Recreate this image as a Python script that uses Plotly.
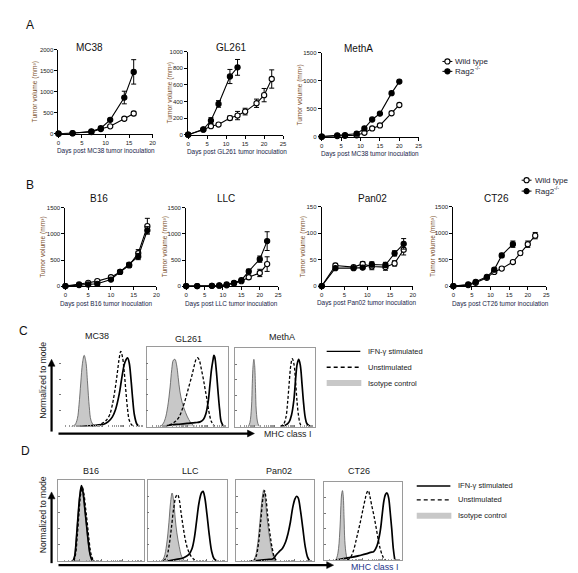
import plotly.graph_objects as go

W, H = 578, 573
FONT = "Liberation Sans, Arial, Helvetica, sans-serif"

# ---------------- Panel A data ----------------
mc38_days = [0, 3, 7, 9, 11, 14, 16]
mc38_wt = [0, 10, 40, 110, 175, 355, 480]
mc38_wt_err = [0, 0, 0, 0, 20, 30, 50]
mc38_rag = [0, 12, 55, 130, 330, 860, 1470]
mc38_rag_err = [0, 0, 0, 0, 20, 150, 290]

gl261_days_wt = [0, 4, 6, 8, 11, 13, 15, 18, 20, 22]
gl261_wt = [0, 60, 102, 122, 200, 230, 278, 378, 476, 670]
gl261_wt_err = [0, 0, 10, 10, 25, 50, 40, 50, 80, 110]
gl261_days_rag = [0, 4, 6, 8, 11, 13]
gl261_rag = [0, 65, 170, 370, 700, 810]
gl261_rag_err = [0, 10, 35, 40, 85, 95]

metha_days = [0, 4, 6, 9, 11, 13, 15, 18, 20]
metha_wt = [0, 10, 15, 25, 70, 147, 200, 418, 565]
metha_rag = [0, 24, 29, 53, 147, 306, 412, 776, 982]

# ---------------- Panel B data ----------------
b16_days = [0, 3, 5, 7, 10, 12, 14, 16, 18]
b16_wt = [0, 31, 63, 95, 170, 271, 397, 630, 1150]
b16_wt_err = [0, 10, 10, 15, 20, 25, 40, 70, 150]
b16_rag = [0, 19, 31, 44, 126, 271, 410, 567, 1071]
b16_rag_err = [0, 5, 8, 10, 15, 25, 40, 60, 70]

llc_days = [0, 3, 7, 9, 11, 13, 15, 17, 20, 22]
llc_wt = [0, 0, 5, 8, 15, 50, 95, 170, 252, 422]
llc_wt_err = [0, 0, 0, 0, 5, 10, 15, 40, 70, 140]
llc_rag = [0, 0, 5, 12, 31, 63, 113, 284, 517, 863]
llc_rag_err = [0, 0, 0, 0, 5, 10, 15, 40, 60, 180]

pan02_days = [0, 3, 7, 9, 11, 14, 16, 18]
pan02_wt = [0, 39, 36, 42, 37, 36, 43, 69]
pan02_wt_err = [0, 4, 2, 4, 6, 6, 5, 10]
pan02_rag = [0, 34, 34, 35, 41, 40, 62, 80]
pan02_rag_err = [0, 2, 2, 2, 5, 5, 5, 10]

ct26_days_wt = [0, 4, 6, 9, 11, 13, 16, 18, 20, 22]
ct26_wt = [0, 19, 63, 156, 269, 331, 456, 625, 794, 956]
ct26_wt_err = [0, 5, 10, 15, 20, 20, 25, 30, 60, 60]
ct26_days_rag = [0, 4, 6, 9, 11, 13, 16]
ct26_rag = [0, 31, 81, 175, 312, 581, 794]
ct26_rag_err = [0, 5, 10, 15, 30, 40, 60]

# ---------------- Panel C/D histogram data (x: % of axis, y: % of mode) ----------------
c_mc38_iso_x = [14, 18, 21, 23, 25, 27, 29, 31, 33, 35, 37, 40, 44]
c_mc38_iso_y = [0, 2, 10, 28, 55, 80, 90, 82, 55, 25, 8, 2, 0]
c_mc38_uns_x = [38, 45, 50, 55, 59, 62, 65, 68, 70, 72, 74, 76, 78, 80, 82, 85, 88]
c_mc38_uns_y = [0, 2, 4, 8, 15, 27, 45, 68, 85, 95, 88, 70, 45, 22, 8, 2, 0]
c_mc38_ifn_x = [25, 35, 45, 52, 57, 62, 66, 70, 73, 76, 78, 80, 82, 84, 86, 88, 91, 94]
c_mc38_ifn_y = [0, 1, 2, 3, 6, 12, 22, 40, 60, 78, 84, 87, 80, 60, 35, 15, 3, 0]

c_gl261_iso_x = [16, 20, 23, 26, 29, 31, 33, 35, 37, 39, 41, 44, 48, 52, 56, 60]
c_gl261_iso_y = [0, 3, 10, 25, 50, 72, 84, 85, 78, 62, 45, 30, 18, 9, 3, 0]
c_gl261_uns_x = [22, 30, 36, 40, 44, 48, 52, 56, 59, 61, 63, 65, 67, 70, 72, 74, 77, 80, 84]
c_gl261_uns_y = [0, 3, 7, 12, 22, 35, 50, 65, 78, 85, 87, 84, 75, 60, 48, 37, 18, 6, 0]
c_gl261_ifn_x = [20, 30, 40, 50, 60, 66, 70, 73, 76, 78, 80, 82, 83, 84, 86, 88, 90, 92, 95]
c_gl261_ifn_y = [0, 2, 3, 4, 5, 6, 9, 16, 32, 52, 72, 85, 90, 88, 70, 45, 22, 6, 0]

c_metha_iso_x = [17, 19, 21, 22, 23, 24, 25, 26, 27, 29, 31]
c_metha_iso_y = [0, 5, 25, 55, 78, 86, 78, 50, 20, 4, 0]
c_metha_uns_x = [57, 61, 64, 66, 68, 70, 72, 74, 76, 78, 80, 82, 85]
c_metha_uns_y = [0, 3, 12, 30, 55, 78, 87, 80, 58, 30, 12, 3, 0]
c_metha_ifn_x = [58, 64, 68, 71, 74, 76, 78, 80, 82, 84, 86, 88, 90, 93, 96]
c_metha_ifn_y = [0, 2, 6, 15, 35, 60, 80, 86, 78, 55, 30, 12, 4, 1, 0]

d_b16_iso_x = [17, 19, 21, 23, 25, 27, 29, 31, 33, 35, 37, 40]
d_b16_iso_y = [0, 8, 30, 58, 82, 92, 80, 62, 42, 22, 8, 0]
d_b16_uns_x = [18, 20, 22, 24, 26, 28, 30, 32, 34, 36, 38, 41]
d_b16_uns_y = [0, 8, 30, 58, 82, 91, 82, 64, 45, 25, 10, 0]
d_b16_ifn_x = [17, 19, 21, 23, 25, 27, 29, 31, 33, 35, 37, 39, 41]
d_b16_ifn_y = [0, 6, 28, 56, 80, 93, 84, 64, 44, 24, 9, 2, 0]

d_llc_iso_x = [18, 21, 24, 27, 29, 31, 33, 35, 37, 40, 43, 47]
d_llc_iso_y = [0, 5, 20, 48, 72, 84, 74, 52, 35, 18, 6, 0]
d_llc_uns_x = [20, 24, 27, 30, 33, 36, 38, 40, 42, 45, 48, 51, 55, 59, 63]
d_llc_uns_y = [0, 5, 18, 40, 65, 80, 82, 76, 62, 42, 25, 14, 6, 2, 0]
d_llc_ifn_x = [25, 35, 45, 52, 56, 59, 62, 65, 68, 70, 72, 75, 78, 81, 84, 88]
d_llc_ifn_y = [0, 2, 4, 8, 15, 28, 50, 72, 84, 86, 80, 58, 32, 12, 3, 0]

d_pan02_iso_x = [22, 25, 28, 31, 34, 36, 38, 40, 43, 46, 49, 52]
d_pan02_iso_y = [0, 5, 20, 48, 78, 88, 76, 55, 32, 14, 4, 0]
d_pan02_uns_x = [23, 26, 29, 32, 35, 37, 39, 41, 44, 47, 50, 53]
d_pan02_uns_y = [0, 5, 20, 48, 78, 87, 76, 56, 33, 15, 4, 0]
d_pan02_ifn_x = [18, 30, 40, 48, 52, 56, 60, 64, 67, 70, 73, 76, 78, 80, 83, 86, 89, 92, 95]
d_pan02_ifn_y = [0, 1, 2, 3, 8, 12, 16, 24, 34, 48, 66, 77, 80, 78, 62, 40, 18, 5, 0]

d_ct26_iso_x = [15, 17, 19, 21, 22, 23, 24, 25, 26, 27, 29, 31]
d_ct26_iso_y = [0, 4, 15, 45, 70, 85, 89, 82, 55, 25, 6, 0]
d_ct26_uns_x = [30, 34, 38, 42, 46, 50, 53, 55, 57, 59, 61, 64, 67, 70, 73, 76, 79]
d_ct26_uns_y = [0, 3, 12, 28, 45, 64, 78, 86, 89, 82, 72, 58, 42, 25, 12, 4, 0]
d_ct26_ifn_x = [15, 25, 37, 46, 54, 60, 64, 68, 71, 73, 75, 77, 79, 81, 83, 85, 87, 89, 91]
d_ct26_ifn_y = [0, 2, 4, 6, 8, 10, 11, 18, 30, 42, 60, 76, 84, 86, 80, 62, 40, 15, 0]

# ---------------- helpers ----------------
def px(x):
    return x / W

def py(y):
    return 1 - y / H

def xd(a, b):
    return [a / W, b / W]

def yd(top, bottom):
    return [1 - bottom / H, 1 - top / H]

fig = go.Figure()
layout = dict(width=W, height=H, margin=dict(l=0, r=0, t=0, b=0),
              paper_bgcolor="white", plot_bgcolor="rgba(0,0,0,0)",
              showlegend=False, font=dict(family=FONT, color="#222"))
annotations = []
shapes = []
counter = [0]

def new_axes(xdom, ydom, xcfg, ycfg):
    counter[0] += 1
    n = counter[0]
    s = "" if n == 1 else str(n)
    layout["xaxis" + s] = dict(domain=xdom, anchor="y" + s, **xcfg)
    layout["yaxis" + s] = dict(domain=ydom, anchor="x" + s, **ycfg)
    return "x" + s, "y" + s

def text(x, y, t, size, color="#222", angle=0, xanchor="center"):
    annotations.append(dict(x=px(x), y=py(y), xref="paper", yref="paper", text=t,
                            showarrow=False, textangle=angle, xanchor=xanchor,
                            yanchor="middle", font=dict(size=size, color=color, family=FONT)))

def line_axis(rng, vals):
    return dict(range=rng, tickvals=vals, showline=True, linecolor="black", linewidth=1,
                ticks="outside", ticklen=3, tickwidth=1, tickcolor="black",
                tickfont=dict(size=6, color="#1a1a1a", family=FONT),
                showgrid=False, zeroline=False, fixedrange=True)

def add_series(xa, ya, xs, ys, err, filled):
    fig.add_trace(go.Scatter(
        x=xs, y=ys, xaxis=xa, yaxis=ya, mode="lines+markers",
        line=dict(color="black", width=1.1),
        marker=dict(symbol="circle", size=5.2, color="black" if filled else "white",
                    line=dict(color="black", width=1.1)),
        error_y=dict(type="data", array=err if err is not None else [0] * len(ys),
                     visible=err is not None, color="black", thickness=1, width=2.5),
        cliponaxis=False, hoverinfo="skip"))

YT = "#7b4f2c"
XT = "#202448"

charts = [
    dict(x=(49, 144), y=(39, 124), xr=20, xt=[0, 5, 10, 15, 20], yr=2000, yt=[0, 500, 1000, 1500, 2000],
         title="MC38", tp=(80, 37), xl="Days post MC38 tumor inoculation", xlp=(97, 141), ylx=25,
         wt=(mc38_days, mc38_wt, mc38_wt_err), rag=(mc38_days, mc38_rag, mc38_rag_err)),
    dict(x=(180, 276), y=(41, 125), xr=25, xt=[0, 5, 10, 15, 20, 25], yr=1000, yt=[0, 200, 400, 600, 800, 1000],
         title="GL261", tp=(223, 37), xl="Days post GL261 tumor inoculation", xlp=(229, 142), ylx=162,
         wt=(gl261_days_wt, gl261_wt, gl261_wt_err), rag=(gl261_days_rag, gl261_rag, gl261_rag_err)),
    dict(x=(315, 413), y=(42, 127), xr=25, xt=[0, 5, 10, 15, 20, 25], yr=1500, yt=[0, 500, 1000, 1500],
         title="MethA", tp=(352, 38), xl="Days post MC38 tumor inoculation", xlp=(364, 145), ylx=293,
         wt=(metha_days, metha_wt, None), rag=(metha_days, metha_rag, None)),
    dict(x=(56, 148), y=(199, 278), xr=20, xt=[0, 5, 10, 15, 20], yr=1500, yt=[0, 500, 1000, 1500],
         title="B16", tp=(90, 189), xl="Days post B16 tumor inoculation", xlp=(97, 296), ylx=33,
         wt=(b16_days, b16_wt, b16_wt_err), rag=(b16_days, b16_rag, b16_rag_err)),
    dict(x=(178, 271), y=(199, 278), xr=25, xt=[0, 5, 10, 15, 20, 25], yr=1500, yt=[0, 500, 1000, 1500],
         title="LLC", tp=(218, 189), xl="Days post LLC tumor inoculation", xlp=(224, 296), ylx=157,
         wt=(llc_days, llc_wt, llc_wt_err), rag=(llc_days, llc_rag, llc_rag_err)),
    dict(x=(315, 407), y=(198, 278), xr=20, xt=[0, 5, 10, 15, 20], yr=150, yt=[0, 50, 100, 150],
         title="Pan02", tp=(366, 189), xl="Days post Pan02 tumor inoculation", xlp=(361, 295), ylx=296,
         wt=(pan02_days, pan02_wt, pan02_wt_err), rag=(pan02_days, pan02_rag, pan02_rag_err)),
    dict(x=(448, 542), y=(198, 278), xr=25, xt=[0, 5, 10, 15, 20, 25], yr=1500, yt=[0, 500, 1000, 1500],
         title="CT26", tp=(492, 189), xl="Days post CT26 tumor inoculation", xlp=(496, 296), ylx=427,
         wt=(ct26_days_wt, ct26_wt, ct26_wt_err), rag=(ct26_days_rag, ct26_rag, ct26_rag_err)),
]

for c in charts:
    xa, ya = new_axes(xd(*c["x"]), yd(*c["y"]), line_axis([0, c["xr"]], c["xt"]),
                      line_axis([0, c["yr"]], c["yt"]))
    add_series(xa, ya, *c["wt"], filled=False)
    add_series(xa, ya, *c["rag"], filled=True)
    text(c["tp"][0], c["tp"][1], c["title"], 10, "#111")
    text(c["xlp"][0], c["xlp"][1], c["xl"], 6.4, XT)
    text(c["ylx"], (c["y"][0] + c["y"][1]) / 2, "Tumor volume (mm\u00b3)", 6.6, YT, angle=-90)

# ---------------- histograms ----------------
minor_frac = [0.301, 0.477, 0.602, 0.699, 0.778, 0.845, 0.903, 0.954]
major_x = [0, 25, 50, 75, 100]

def hist_axes(xr, yr, frame):
    xcfg = dict(range=[0, 100], showline=frame, mirror=frame, linecolor="#9a9a9a", linewidth=0.8,
                ticks="inside", ticklen=2, tickwidth=0.8, tickcolor="#777", tickvals=major_x,
                showticklabels=False, showgrid=False, zeroline=False, fixedrange=True,
                minor=dict(tickvals=[d + 25 * f for d in [0, 25, 50, 75] for f in minor_frac],
                           ticks="inside", ticklen=1.5, tickcolor="#999", tickwidth=0.6))
    ycfg = dict(range=[0, 100], showline=frame, mirror=frame, linecolor="#9a9a9a", linewidth=0.8,
                ticks="inside", ticklen=2, tickwidth=0.8, tickcolor="#777",
                tickvals=[0, 20, 40, 60, 80, 100], showticklabels=False, showgrid=False,
                zeroline=False, fixedrange=True)
    return new_axes(xd(*xr), yd(*yr), xcfg, ycfg)

def add_hist(xa, ya, iso, uns, ifn):
    fig.add_trace(go.Scatter(x=iso[0], y=iso[1], xaxis=xa, yaxis=ya, mode="lines", fill="tozeroy",
                             fillcolor="#c8c8c8", line=dict(color="#555", width=0.8, shape="spline"),
                             hoverinfo="skip"))
    fig.add_trace(go.Scatter(x=uns[0], y=uns[1], xaxis=xa, yaxis=ya, mode="lines",
                             line=dict(color="black", width=1.3, dash="3px,2px", shape="spline"),
                             hoverinfo="skip"))
    fig.add_trace(go.Scatter(x=ifn[0], y=ifn[1], xaxis=xa, yaxis=ya, mode="lines",
                             line=dict(color="black", width=1.7, shape="spline"), hoverinfo="skip"))

hists = [
    dict(x=(50, 136), y=(340, 420), frame=False, title="MC38", tp=(88, 328),
         iso=(c_mc38_iso_x, c_mc38_iso_y), uns=(c_mc38_uns_x, c_mc38_uns_y), ifn=(c_mc38_ifn_x, c_mc38_ifn_y)),
    dict(x=(138, 220), y=(340, 420), frame=True, title="GL261", tp=(180, 331),
         iso=(c_gl261_iso_x, c_gl261_iso_y), uns=(c_gl261_uns_x, c_gl261_uns_y), ifn=(c_gl261_ifn_x, c_gl261_ifn_y)),
    dict(x=(227, 308), y=(341, 420), frame=True, title="MethA", tp=(275, 329),
         iso=(c_metha_iso_x, c_metha_iso_y), uns=(c_metha_uns_x, c_metha_uns_y), ifn=(c_metha_ifn_x, c_metha_ifn_y)),
    dict(x=(49, 135), y=(474, 556), frame=True, title="B16", tp=(82, 465),
         iso=(d_b16_iso_x, d_b16_iso_y), uns=(d_b16_uns_x, d_b16_uns_y), ifn=(d_b16_ifn_x, d_b16_ifn_y)),
    dict(x=(139, 219), y=(474, 556), frame=True, title="LLC", tp=(182, 465),
         iso=(d_llc_iso_x, d_llc_iso_y), uns=(d_llc_uns_x, d_llc_uns_y), ifn=(d_llc_ifn_x, d_llc_ifn_y)),
    dict(x=(228, 307), y=(474, 556), frame=True, title="Pan02", tp=(272, 465),
         iso=(d_pan02_iso_x, d_pan02_iso_y), uns=(d_pan02_uns_x, d_pan02_uns_y), ifn=(d_pan02_ifn_x, d_pan02_ifn_y)),
    dict(x=(317, 396), y=(476, 555), frame=True, title="CT26", tp=(353, 465),
         iso=(d_ct26_iso_x, d_ct26_iso_y), uns=(d_ct26_uns_x, d_ct26_uns_y), ifn=(d_ct26_ifn_x, d_ct26_ifn_y)),
]

for h in hists:
    xa, ya = hist_axes(h["x"], h["y"], h["frame"])
    add_hist(xa, ya, h["iso"], h["uns"], h["ifn"])
    text(h["tp"][0], h["tp"][1], h["title"], 9, "#1a1a1a")

# axis arrows (shapes) and labels for C and D
def arrow(hx, hy, tx, ty, w=2.2, head=7, half=3.5):
    if hx == tx:  # vertical, pointing up
        shapes.append(dict(type="line", xref="paper", yref="paper", x0=px(tx), x1=px(hx),
                           y0=py(ty), y1=py(hy + head - 1), line=dict(color="black", width=w)))
        path = "M {},{} L {},{} L {},{} Z".format(px(hx), py(hy), px(hx - half), py(hy + head),
                                                px(hx + half), py(hy + head))
    else:  # horizontal, pointing right
        shapes.append(dict(type="line", xref="paper", yref="paper", x0=px(tx), x1=px(hx - head + 1),
                           y0=py(ty), y1=py(hy), line=dict(color="black", width=w)))
        path = "M {},{} L {},{} L {},{} Z".format(px(hx), py(hy), px(hx - head), py(hy - half),
                                                px(hx - head), py(hy + half))
    shapes.append(dict(type="path", xref="paper", yref="paper", path=path,
                       fillcolor="black", line=dict(color="black", width=0.5)))

arrow(42, 352, 42, 425)
arrow(247, 427, 49, 427)
arrow(42, 486, 42, 558)
arrow(327, 560, 49, 560)
text(33, 373, "Normalized to mode", 8.6, "#222", angle=-90)
text(33, 509, "Normalized to mode", 8.6, "#222", angle=-90)
text(280, 427, "MHC class I", 8.8, "#222")
text(368, 562, "MHC class I", 8.8, "#24348a")

# panel letters
text(20, 14, "A", 12, "#111")
text(20, 176, "B", 12, "#111")
text(14, 323, "C", 12, "#111")
text(16, 445, "D", 12, "#111")

# legends for A and B
def marker_legend(x, y, filled, label, sup=None):
    shapes.append(dict(type="line", xref="paper", yref="paper", x0=px(x - 5), x1=px(x + 5),
                       y0=py(y), y1=py(y), line=dict(color="black", width=1)))
    r = 2.6
    shapes.append(dict(type="circle", xref="paper", yref="paper", x0=px(x - r), x1=px(x + r),
                       y0=py(y + r), y1=py(y - r), fillcolor="black" if filled else "white",
                       line=dict(color="black", width=1.1)))
    text(x + 6, y, label, 8, "#1a1a30", xanchor="left")
    if sup:
        text(x + 6 + 19.5, y - 3, sup, 5.5, "#1a1a30", xanchor="left")

marker_legend(442, 51, False, "Wild type")
marker_legend(442, 61, True, "Rag2", "-/-")
marker_legend(522, 171, False, "Wild type")
marker_legend(522, 182, True, "Rag2", "-/-")

# legends for C and D
def hist_legend(x0, x1, ys, tx):
    shapes.append(dict(type="line", xref="paper", yref="paper", x0=px(x0), x1=px(x1),
                       y0=py(ys[0]), y1=py(ys[0]), line=dict(color="black", width=1.4)))
    shapes.append(dict(type="line", xref="paper", yref="paper", x0=px(x0), x1=px(x1),
                       y0=py(ys[1]), y1=py(ys[1]), line=dict(color="black", width=1.3, dash="4px,3px")))
    shapes.append(dict(type="rect", xref="paper", yref="paper", x0=px(x0), x1=px(x1 + 1),
                       y0=py(ys[2] + 3), y1=py(ys[2] - 3), fillcolor="#c8c8c8", line=dict(width=0)))
    text(tx, ys[0], "IFN-γ stimulated", 7.5, "#1a1a1a", xanchor="left")
    text(tx, ys[1], "Unstimulated", 7.5, "#1a1a1a", xanchor="left")
    text(tx, ys[2], "Isotype control", 7.5, "#1a1a1a", xanchor="left")

hist_legend(320, 354, [344, 360, 376], 360)
hist_legend(411, 445, [480, 494, 510], 451)

layout["annotations"] = annotations
layout["shapes"] = shapes
fig.update_layout(**layout)
fig.write_html("out.html")
